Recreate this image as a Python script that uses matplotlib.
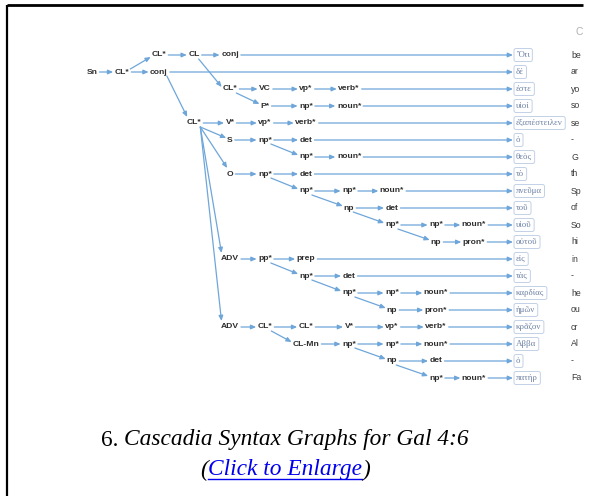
import matplotlib.pyplot as plt
from matplotlib.patches import FancyArrowPatch, FancyBboxPatch

# syntax tree nodes: label, column level, leaf row
node_labels = ['Sn', 'CL*', 'CL*', 'conj', 'CL', 'conj', 'CL*', 'VC', 'vp*', 'verb*',
               'P*', 'np*', 'noun*', 'CL*', 'V*', 'vp*', 'verb*', 'S', 'np*', 'det',
               'np*', 'noun*', 'O', 'np*', 'det', 'np*', 'np*', 'noun*', 'np', 'det',
               'np*', 'np*', 'noun*', 'np', 'pron*', 'ADV', 'pp*', 'prep', 'np*', 'det',
               'np*', 'np*', 'noun*', 'np', 'pron*', 'ADV', 'CL*', 'CL*', 'V*', 'vp*',
               'verb*', 'CL-Mn', 'np*', 'np*', 'noun*', 'np', 'det', 'np*', 'noun*']
node_levels = [0, 1, 2, 2, 3, 4, 4, 5, 6, 7,
               5, 6, 7, 3, 4, 5, 6, 4, 5, 6,
               6, 7, 4, 5, 6, 6, 7, 8, 7, 8,
               8, 9, 10, 9, 10, 4, 5, 6, 6, 7,
               7, 8, 9, 8, 9, 4, 5, 6, 7, 8,
               9, 6, 7, 8, 9, 8, 9, 9, 10]
node_rows = [1, 1, 0, 1, 0, 0, 2, 2, 2, 2,
             3, 3, 3, 4, 4, 4, 4, 5, 5, 5,
             6, 6, 7, 7, 7, 8, 8, 8, 9, 9,
             10, 10, 10, 11, 11, 12, 12, 12, 13, 13,
             14, 14, 14, 15, 15, 16, 16, 16, 16, 16,
             16, 17, 17, 17, 17, 18, 18, 19, 19]

# (from, to) node pairs
edges = [(0, 1), (1, 2), (1, 3), (2, 4), (4, 5), (4, 6), (6, 7), (7, 8), (8, 9),
         (6, 10), (10, 11), (11, 12), (3, 13), (13, 14), (14, 15), (15, 16),
         (13, 17), (17, 18), (18, 19), (18, 20), (20, 21), (13, 22), (22, 23),
         (23, 24), (23, 25), (25, 26), (26, 27), (25, 28), (28, 29), (28, 30),
         (30, 31), (31, 32), (30, 33), (33, 34), (13, 35), (35, 36), (36, 37),
         (36, 38), (38, 39), (38, 40), (40, 41), (41, 42), (40, 43), (43, 44),
         (13, 45), (45, 46), (46, 47), (47, 48), (48, 49), (49, 50), (46, 51),
         (51, 52), (52, 53), (53, 54), (52, 55), (55, 56), (55, 57), (57, 58)]

# node that points at each word
leaf_nodes = [5, 3, 9, 12, 16, 19, 21, 24, 27, 29, 32, 34, 37, 39, 42, 44, 50, 54, 56, 58]
greek_words = ['Ὅτι', 'δέ', 'ἐστε', 'υἱοί', 'ἐξαπέστειλεν', 'ὁ', 'θεὸς', 'τὸ', 'πνεῦμα',
               'τοῦ', 'υἱοῦ', 'αὐτοῦ', 'εἰς', 'τὰς', 'καρδίας', 'ἡμῶν', 'κρᾶζον', 'Αββα',
               'ὁ', 'πατήρ']
# gloss column, cut off at the frame edge in the picture
english_words = ['be', 'ar', 'yo', 'so', 'se', '-', 'G', 'th', 'Sp', 'of', 'So', 'hi',
                 'in', '-', 'he', 'ou', 'cr', 'Al', '-', 'Fa']

# layout in pixels
col_x = [92, 122, 159, 194, 230, 265, 306, 349, 392, 436, 474]
row0_y, row_dy = 55, 17
leaf_x = 513
eng_x = 571
line_col = '#6fa6d9'

W, H = 591, 496
fig = plt.figure(figsize=(W / 100, H / 100), dpi=100)
ax = fig.add_axes([0, 0, 1, 1])
ax.set_xlim(0, W)
ax.set_ylim(H, 0)
ax.axis('off')


def row_y(r):
    return row0_y + row_dy * r


node_txt = []
for lab, lev, r in zip(node_labels, node_levels, node_rows):
    t = ax.text(col_x[lev], row_y(r), lab, ha='center', va='center', fontsize=6.1,
                fontweight='bold', color='#2e2e2e', family='Liberation Sans')
    node_txt.append(t)

greek_txt = []
for i, w in enumerate(greek_words):
    t = ax.text(leaf_x + 3, row_y(i), w, ha='left', va='center', fontsize=6.4,
                color='#6f82a4', family=['Liberation Serif', 'DejaVu Serif'])
    greek_txt.append(t)

for i, w in enumerate(english_words):
    ax.text(eng_x, row_y(i), w, ha='left', va='center', fontsize=6.3,
            color='#3a3a3a', family='Liberation Sans')
ax.text(575, 32, 'C', ha='left', va='center', fontsize=7.5, color='#b0b0b0',
        family='Liberation Sans')

fig.canvas.draw()
rend = fig.canvas.get_renderer()
inv = ax.transData.inverted()


def data_box(t):
    bb = t.get_window_extent(rend)
    (x0, y0), (x1, y1) = inv.transform([[bb.x0, bb.y0], [bb.x1, bb.y1]])
    return x0, x1


def arrow(p, q):
    a = FancyArrowPatch(p, q, arrowstyle='-|>,head_length=3,head_width=1.3',
                        mutation_scale=1, shrinkA=0, shrinkB=0, color=line_col,
                        lw=0.9, zorder=2)
    ax.add_patch(a)


for a, b in edges:
    ax0, ax1 = data_box(node_txt[a])
    bx0, bx1 = data_box(node_txt[b])
    ya, yb = row_y(node_rows[a]), row_y(node_rows[b])
    if node_rows[a] == node_rows[b]:
        arrow((ax1 + 2, ya), (bx0 - 1.5, yb))
    elif node_rows[b] < node_rows[a]:
        arrow((ax1 + 1, ya - 3), (bx0 - 1, yb + 2))
    elif node_rows[b] - node_rows[a] >= 3:
        arrow((ax1 - 1, ya + 4), (bx0 + 0.5, yb - 6))
    else:
        arrow((ax1 - 1, ya + 4), (bx0 - 1, yb - 2))

for i, n in enumerate(leaf_nodes):
    x0, x1 = data_box(node_txt[n])
    arrow((x1 + 2, row_y(i)), (leaf_x, row_y(i)))
    gx0, gx1 = data_box(greek_txt[i])
    box = FancyBboxPatch((leaf_x + 1, row_y(i) - 6.5), gx1 - leaf_x + 1.5, 13,
                         boxstyle='round,pad=0,rounding_size=2', fc='white',
                         ec='#c3d1e8', lw=0.7, zorder=1)
    ax.add_patch(box)

# frame
ax.plot([7, 583], [5, 5], color='black', lw=2, solid_capstyle='butt')
ax.plot([7, 7], [5, H], color='black', lw=1.6, solid_capstyle='butt')

# caption
serif = 'Liberation Serif'
fs = 16.8
p1 = ax.text(0, 440, '6. ', fontsize=fs, family=serif, va='center', ha='left')
p2 = ax.text(0, 440, 'Cascadia Syntax Graphs for Gal 4:6', fontsize=fs, family=serif,
             style='italic', va='center', ha='left')
q1 = ax.text(0, 470, '(', fontsize=fs, family=serif, style='italic', va='center', ha='left')
q2 = ax.text(0, 470, 'Click to Enlarge', fontsize=fs, family=serif, style='italic',
             va='center', ha='left', color='#0000ee')
q3 = ax.text(0, 470, ')', fontsize=fs, family=serif, style='italic', va='center', ha='left')
fig.canvas.draw()


def width(t):
    x0, x1 = data_box(t)
    return x1 - x0


cx = 285
w1, w2 = width(p1), width(p2)
p1.set_x(cx - (w1 + w2) / 2)
p2.set_x(cx - (w1 + w2) / 2 + w1)
wa, wb, wc = width(q1), width(q2), width(q3)
sx = cx - (wa + wb + wc) / 2
q1.set_x(sx)
q2.set_x(sx + wa)
q3.set_x(sx + wa + wb)
ax.plot([sx + wa, sx + wa + wb], [479, 479], color='#0000ee', lw=1)

fig.savefig('out.png', dpi=100)
